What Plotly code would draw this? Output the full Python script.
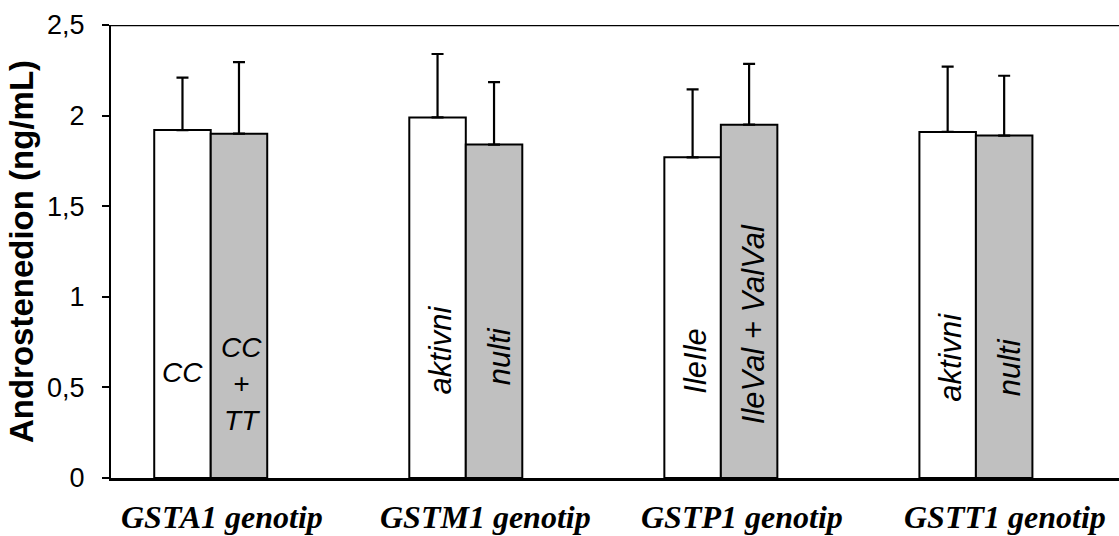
import plotly.graph_objects as go

# Androstenedione by GST genotype: mean and SD per genotype group
groups = ["GSTA1 genotip", "GSTM1 genotip", "GSTP1 genotip", "GSTT1 genotip"]
mean_white = [1.92, 1.99, 1.77, 1.91]
sd_white = [0.29, 0.35, 0.375, 0.36]
mean_gray = [1.90, 1.84, 1.95, 1.89]
sd_gray = [0.395, 0.345, 0.335, 0.33]
label_white = ["CC", "aktivni", "IleIle", "aktivni"]
label_gray = ["CC<br>+<br>TT", "nulti", "IleVal + ValVal", "nulti"]
y_tickvals = [0, 0.5, 1, 1.5, 2, 2.5]
y_ticktext = ["0", "0,5", "1", "1,5", "2", "2,5"]

pos = list(range(len(groups)))
SANS = "Liberation Sans, Arial, sans-serif"
SERIF = "Liberation Serif, Times New Roman, serif"

def err(vals):
    return dict(type="data", symmetric=False, array=vals, arrayminus=[0] * len(vals),
                color="black", thickness=2.2, width=6)

fig = go.Figure()
fig.add_trace(go.Bar(x=pos, y=mean_white, marker=dict(color="white", line=dict(color="black", width=2)),
                     error_y=err(sd_white), showlegend=False))
fig.add_trace(go.Bar(x=pos, y=mean_gray, marker=dict(color="#C0C0C0", line=dict(color="black", width=2)),
                     error_y=err(sd_gray), showlegend=False))

bar_half = 0.111
# vertical centre of each in-bar genotype label (data units)
white_label_y = [0.585, 0.706, 0.645, 0.667]
gray_label_y = [0.52, 0.673, 0.85, 0.612]
# pixel nudges for the group captions under the axis
caption_shift = [11, 20, 21, 29]
for i in pos:
    horiz = i == 0
    ang = 0 if horiz else -90
    size = 28 if horiz else 31
    fig.add_annotation(x=i - bar_half, y=white_label_y[i], text="<i>" + label_white[i] + "</i>",
                       showarrow=False, textangle=ang, font=dict(family=SANS, size=size, color="black"),
                       xanchor="center", yanchor="middle", xshift=0 if horiz else 3)
    fig.add_annotation(x=i + bar_half, y=gray_label_y[i], text="<i>" + label_gray[i] + "</i>",
                       showarrow=False, textangle=ang, font=dict(family=SANS, size=size, color="black"),
                       xanchor="center", yanchor="middle", xshift=2 if horiz else 5)
    fig.add_annotation(x=i, xshift=caption_shift[i], y=0, yref="paper", yshift=-39,
                       text="<b><i>" + groups[i] + "</i></b>",
                       showarrow=False, font=dict(family=SERIF, size=32, color="black"),
                       xanchor="center", yanchor="middle")

# top border line across the plot area
fig.add_shape(type="line", xref="paper", yref="y", x0=0, x1=1, y0=2.5, y1=2.5,
              line=dict(color="black", width=2.5))

fig.update_layout(
    width=1119, height=536,
    margin=dict(l=111, r=0, t=25, b=58),
    paper_bgcolor="white", plot_bgcolor="white",
    barmode="group", bargap=0.557, bargroupgap=0,
    separators=", ",
    xaxis=dict(range=[-0.391, 3.561], showline=True, linecolor="black", linewidth=2.5,
               showticklabels=False, ticks="", showgrid=False, zeroline=False),
    yaxis=dict(range=[0, 2.5], tickvals=y_tickvals, ticktext=y_ticktext,
               showline=True, linecolor="black", linewidth=2,
               ticks="outside", ticklen=7, tickwidth=1.5, tickcolor="black",
               ticklabelstandoff=12,
               tickfont=dict(family=SANS, size=27, color="black"),
               showgrid=False, zeroline=False,
               title=dict(text="<b>Androstenedion (ng/mL)</b>", standoff=4,
                          font=dict(family=SANS, size=33, color="black"))),
)

fig.write_html("out.html")
